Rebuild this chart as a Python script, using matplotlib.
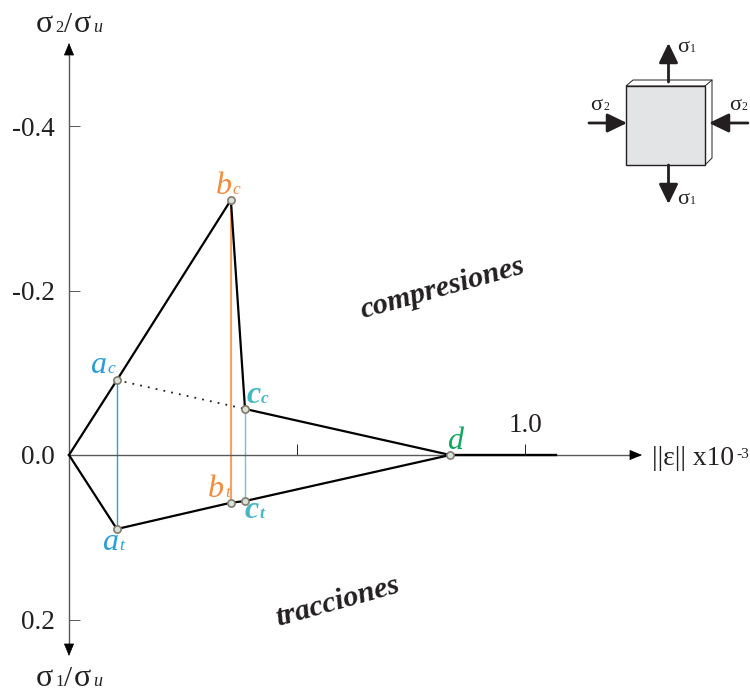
import matplotlib.pyplot as plt
from matplotlib.patches import Polygon
from matplotlib.transforms import Affine2D

plt.rcParams["font.family"] = ["Liberation Serif", "DejaVu Serif"]

# points: strain norm (x10^-3), stress ratio
a_eps = 0.105
b_eps = 0.355
c_eps = 0.386
d_eps = 0.836
end_eps = 1.068

ac_sig = -0.091
at_sig = 0.090
bc_sig = -0.310
bt_sig = 0.058
cc_sig = -0.056
ct_sig = 0.056

compression_eps = [0.0, a_eps, b_eps, c_eps, d_eps]
compression_sig = [0.0, ac_sig, bc_sig, cc_sig, 0.0]
tension_eps = [0.0, a_eps, b_eps, c_eps, d_eps]
tension_sig = [0.0, at_sig, bt_sig, ct_sig, 0.0]

y_ticks = [-0.4, -0.2, 0.0, 0.2]
y_labels = ["-0.4", "-0.2", "0.0", "0.2"]
x_ticks = [0.5, 1.0]
x_labels = ["", "1.0"]

BLUE = "#2a9fd8"
ORANGE = "#f58a3c"
TEAL = "#45b8c6"
GREEN = "#10a860"
AXIS_GREY = "#58595b"
INK = "#231f20"

fig = plt.figure(figsize=(7.5, 6.93), dpi=100)
ax = fig.add_axes([0, 0, 1, 1])
ax.patch.set_visible(False)

# scale: 456 px per unit in x, 822.5 px per unit in y, origin at (69, 455)
ax.set_xlim(-69 / 456, (750 - 69) / 456)
ax.set_ylim((693 - 455) / 822.5, -455 / 822.5)

# pixel coordinates for the free text and the little block
px = Affine2D().scale(1 / 750, -1 / 693).translate(0, 1) + fig.transFigure

for side in ["right", "bottom"]:
    ax.spines[side].set_visible(False)
ax.spines["left"].set_position(("data", 0))
ax.spines["top"].set_position(("data", 0))
ax.spines["left"].set_bounds(-0.485, 0.235)
ax.spines["top"].set_bounds(0, 1.25)
for side in ["left", "top"]:
    ax.spines[side].set_color(AXIS_GREY)
    ax.spines[side].set_linewidth(1.0)

ax.xaxis.tick_top()
ax.set_xticks(x_ticks, x_labels)
ax.set_yticks(y_ticks, y_labels)
ax.tick_params(axis="x", direction="out", length=8, width=0.7, pad=4, labelsize=19.5, color=INK)
ax.tick_params(axis="y", direction="in", length=8, width=0.7, pad=10, labelsize=19.5, color=AXIS_GREY)
for lab in ax.get_xticklabels() + ax.get_yticklabels():
    lab.set_color(INK)

# axis arrowheads
head = "-|>,head_width=0.33,head_length=0.8"
for start, tip in [((69, 56), (69, 43)), ((69, 644), (69, 656)), ((630, 455), (642, 455))]:
    ax.annotate("", xy=tip, xytext=start, xycoords=px, textcoords=px,
                arrowprops=dict(arrowstyle=head, color="black", lw=0.5, shrinkA=0, shrinkB=0))

# vertical links, behind the black path
ax.plot([a_eps, a_eps], [ac_sig, at_sig], color=BLUE, lw=1.0, zorder=2)
ax.plot([b_eps, b_eps], [bc_sig, bt_sig], color=ORANGE, lw=1.5, alpha=0.8, zorder=2)
ax.plot([c_eps, c_eps], [cc_sig, ct_sig], color=TEAL, lw=1.0, alpha=0.8, zorder=2)

ax.plot(compression_eps, compression_sig, color="black", lw=1.6, zorder=3, solid_joinstyle="miter")
ax.plot(tension_eps, tension_sig, color="black", lw=1.6, zorder=3, solid_joinstyle="miter")
ax.plot([d_eps, end_eps], [0, 0], color="black", lw=1.7, zorder=3)
ax.plot([a_eps, c_eps], [ac_sig, cc_sig], color=INK, lw=1.3, ls=(0, (1, 3.4)), zorder=3)

ax.plot([a_eps, a_eps, b_eps, b_eps, c_eps, c_eps, d_eps],
        [ac_sig, at_sig, bc_sig, bt_sig, cc_sig, ct_sig, 0.0],
        ls="none", marker="o", ms=5.2, mfc="#d6e4d6", mec="#85796f", mew=1.2, zorder=4)


def put(x, y, s, size, colour=INK, **kw):
    ax.text(x, y, s, transform=px, fontsize=size, color=colour, ha="left", va="baseline", **kw)


# point labels: letter, then a small subscript on the same baseline
point_labels = [
    ("a", "c", 90, 107, 373, "normal", BLUE),
    ("a", "t", 102, 119, 550, "normal", BLUE),
    ("b", "c", 216, 232, 194, "normal", ORANGE),
    ("b", "t", 208, 225, 497, "normal", ORANGE),
    ("c", "c", 247, 261, 403, "bold", TEAL),
    ("c", "t", 245, 259, 518, "bold", TEAL),
]
for letter, sub, x, sub_x, y, weight, colour in point_labels:
    put(x, y, letter, 23, colour, style="italic", weight=weight)
    put(sub_x, y, sub, 12.5, colour, style="italic", weight=weight)
put(447, 449, "d", 23, GREEN, style="italic")

# axis titles
for digit, y in [("2", 32), ("1", 686)]:
    put(36, y, "σ", 23)
    put(55, y, digit, 12)
    put(64, y, "/", 21)
    put(74, y, "σ", 23)
    put(93, y, "u", 13, style="italic")

put(652, 465, "||ε|| x10", 19.8)
put(736, 458, "-3", 11)

put(363, 318, "compresiones", 21.8, style="italic", weight="bold",
    rotation=15.6, rotation_mode="anchor")
put(278, 626, "tracciones", 21.8, style="italic", weight="bold",
    rotation=15.6, rotation_mode="anchor")

# stressed block, top right
ax.add_patch(Polygon([(626, 86), (633, 80), (712, 80), (712, 158), (705, 165), (705, 86)],
                     closed=True, transform=px, fc="white", ec=INK, lw=0.7, zorder=5))
ax.plot([705, 712], [86, 80], transform=px, color=INK, lw=0.7, zorder=5)
ax.add_patch(Polygon([(626, 86), (705, 86), (705, 165), (626, 165)],
                     closed=True, transform=px, fc="#e3e4e6", ec=INK, lw=1.0, zorder=6))

block_head = "-|>,head_width=0.58,head_length=1.2"
block_arrows = [
    ((668.5, 82), (668.5, 43)),
    ((668.5, 165), (668.5, 204)),
    ((589, 123), (627, 123)),
    ((748, 123), (709, 123)),
]
for start, tip in block_arrows:
    ax.annotate("", xy=tip, xytext=start, xycoords=px, textcoords=px, zorder=7,
                arrowprops=dict(arrowstyle=block_head, color=INK, lw=2.0, shrinkA=0, shrinkB=0))

block_labels = [("1", 677, 52), ("1", 677, 204), ("2", 590, 110), ("2", 729, 110)]
for digit, x, y in block_labels:
    put(x, y, "σ", 16)
    put(x + 13, y, digit, 8.5)

fig.savefig("out.png", dpi=100)
